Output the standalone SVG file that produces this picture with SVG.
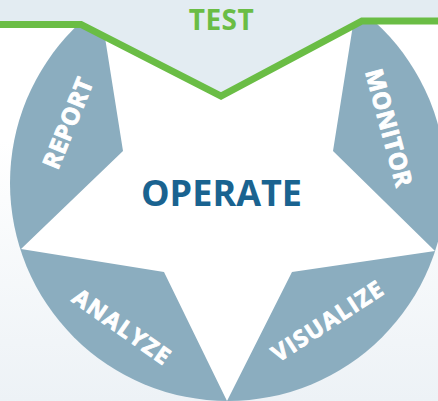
<svg xmlns="http://www.w3.org/2000/svg" width="438" height="401" viewBox="0 0 438 401">
  <defs>
    <linearGradient id="bg" x1="0" y1="0" x2="0" y2="1">
      <stop offset="0.35" stop-color="#ffffff"/>
      <stop offset="1" stop-color="#edf2f6"/>
    </linearGradient>
    <style>
      .seg { font-family: "Open Sans", "Liberation Sans", sans-serif; font-weight: 700; fill: #ffffff; stroke: #ffffff; stroke-width: 0.9; stroke-linejoin: round; text-anchor: middle; }
      .title { font-family: "Open Sans", "Liberation Sans", sans-serif; font-weight: 700; text-anchor: middle; }
    </style>
  </defs>
  <rect x="0" y="0" width="438" height="401" fill="url(#bg)"/>
  <g id="wheel">
    <circle cx="228" cy="183" r="218" fill="#8badbf"/>
    <polygon id="star" fill="#ffffff" points="228,75 356,6 333,151 435,251 292,272 227,401 164,272 21,249 123,151 100,6"/>
  </g>
  <g id="test">
    <polygon fill="#e3ecf2" points="0,0 438,0 438,21 362,21 221,96 81,24.5 0,24.5"/>
    <polyline fill="none" stroke="#6abd45" stroke-width="7" stroke-linejoin="miter" points="0,24.5 81,24.5 221,96 362,21 438,21"/>
    <text class="title" x="221.5" y="30" font-size="28" fill="#6abd45" letter-spacing="0.5">TEST</text>
  </g>
  <g id="operate">
    <text class="title" x="221.5" y="206" font-size="36" fill="#1a6390">OPERATE</text>
  </g>
  <g id="report">
    <text class="seg" font-size="24" letter-spacing="0.5" transform="translate(68,123) rotate(-68)" y="8.5">REPORT</text>
  </g>
  <g id="monitor">
    <text class="seg" font-size="24" letter-spacing="0.5" transform="translate(389,128) rotate(75)" y="8.5">MONITOR</text>
  </g>
  <g id="analyze">
    <text class="seg" font-size="23" letter-spacing="1.5" transform="translate(122,327) rotate(35)" y="8">ANALYZE</text>
  </g>
  <g id="visualize">
    <text class="seg" font-size="23" letter-spacing="1.5" transform="translate(328,321) rotate(-33)" y="8">VISUALIZE</text>
  </g>
  <g id="connectors"/>
</svg>
